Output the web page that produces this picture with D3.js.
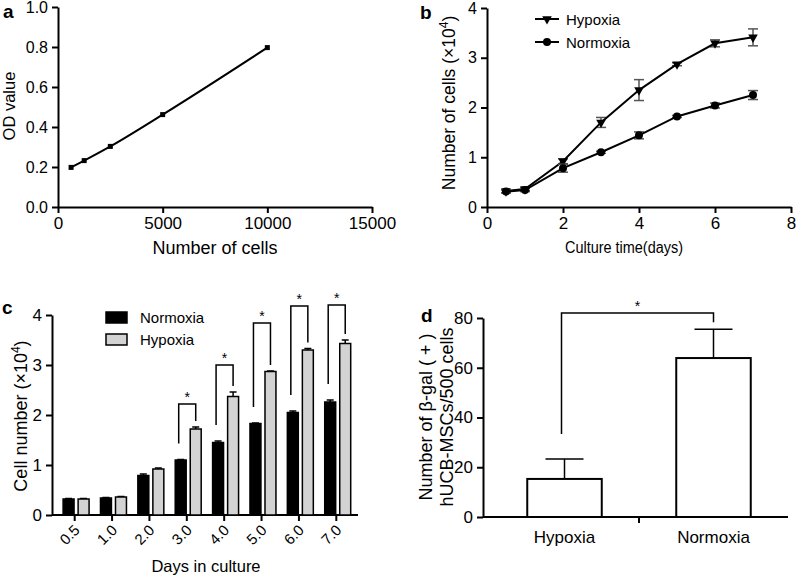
<!DOCTYPE html>
<html><head><meta charset="utf-8">
<script src="https://cdn.jsdelivr.net/npm/d3@7"></script>
<style>
body{margin:0;background:#fff;}
svg{display:block;}
</style></head><body>
<svg id="chart" width="796" height="576"></svg>
<script>
// ---------- Panel a ----------
const aCells = [625, 1250, 2500, 5000, 10000];
const aOD = [0.198, 0.232, 0.303, 0.462, 0.797];
const aXTicks = [0, 5000, 10000, 15000];
const aYTicks = [0, 0.2, 0.4, 0.6, 0.8, 1.0];

// ---------- Panel b ----------
const bDays = [0.5, 1, 2, 3, 4, 5, 6, 7];
const bHypoxia = [0.32, 0.36, 0.92, 1.70, 2.35, 2.87, 3.29, 3.41];
const bHypoxiaErr = [0.03, 0.03, 0.05, 0.10, 0.21, 0.03, 0.07, 0.17];
const bNormoxia = [0.31, 0.34, 0.78, 1.10, 1.44, 1.82, 2.04, 2.25];
const bNormoxiaErr = [0.03, 0.03, 0.08, 0.02, 0.07, 0.02, 0.05, 0.09];
const bXTicks = [0, 2, 4, 6, 8];
const bYTicks = [0, 1, 2, 3, 4];

// ---------- Panel c ----------
const cDays = ["0.5", "1.0", "2.0", "3.0", "4.0", "5.0", "6.0", "7.0"];
const cNormoxia = [0.32, 0.34, 0.79, 1.10, 1.45, 1.83, 2.05, 2.26];
const cNormoxiaErr = [0.01, 0.01, 0.03, 0.01, 0.03, 0.01, 0.03, 0.04];
const cHypoxia = [0.32, 0.36, 0.92, 1.72, 2.37, 2.87, 3.30, 3.43];
const cHypoxiaErr = [0.01, 0.01, 0.02, 0.04, 0.09, 0.01, 0.03, 0.07];
const cSigDays = ["3.0", "4.0", "5.0", "6.0", "7.0"];
const cSigTop = [2.22, 3.0, 3.84, 4.18, 4.2];
const cYTicks = [0, 1, 2, 3, 4];
const cSeries = ["Normoxia", "Hypoxia"];

// ---------- Panel d ----------
const dGroups = ["Hypoxia", "Normoxia"];
const dValues = [15.3, 63.9];
const dErr = [8.0, 11.6];
const dSigTop = 82.0;
const dYTicks = [0, 20, 40, 60, 80];

const FONT = "'Liberation Sans', Arial, Helvetica, sans-serif";
const svg = d3.select("#chart").attr("font-family", FONT);

function styleAxis(g, fs) {
  g.attr("font-family", FONT).attr("font-size", fs);
  g.select(".domain").attr("stroke", "#000").attr("stroke-width", 2);
  g.selectAll(".tick line").attr("stroke", "#000").attr("stroke-width", 2);
  g.selectAll(".tick text").attr("fill", "#000");
  return g;
}
function letter(t, x, y) {
  svg.append("text").attr("x", x).attr("y", y).attr("font-size", 19)
    .attr("font-weight", "bold").text(t);
}

// ================= Panel a =================
{
  const x = d3.scaleLinear().domain([0, 15000]).range([58, 372]);
  const y = d3.scaleLinear().domain([0, 1]).range([207, 7]);
  styleAxis(svg.append("g").attr("transform", "translate(0,207)")
    .call(d3.axisBottom(x).tickValues(aXTicks).tickFormat(d3.format("d")).tickSize(6).tickSizeOuter(0).tickPadding(4)), 17);
  styleAxis(svg.append("g").attr("transform", "translate(58,0)")
    .call(d3.axisLeft(y).tickValues(aYTicks).tickFormat(d3.format(".1f")).tickSize(6).tickSizeOuter(0).tickPadding(4)), 16);
  const pts = aCells.map((c, i) => [x(c), y(aOD[i])]);
  svg.append("path").attr("d", d3.line().curve(d3.curveMonotoneX)(pts))
    .attr("fill", "none").attr("stroke", "#000").attr("stroke-width", 2);
  svg.append("g").selectAll("rect").data(pts).join("rect")
    .attr("x", d => d[0] - 2.5).attr("y", d => d[1] - 2.5).attr("width", 5).attr("height", 5).attr("fill", "#000");
  svg.append("text").attr("transform", "translate(15,106) rotate(-90)").attr("text-anchor", "middle")
    .attr("font-size", 16.5).text("OD value");
  svg.append("text").attr("x", 215).attr("y", 254).attr("text-anchor", "middle")
    .attr("font-size", 18).text("Number of cells");
  letter("a", 3, 18);
}

// ================= Panel b =================
{
  const x = d3.scaleLinear().domain([0, 8]).range([487, 791]);
  const y = d3.scaleLinear().domain([0, 4]).range([207, 8]);
  styleAxis(svg.append("g").attr("transform", "translate(0,207)")
    .call(d3.axisBottom(x).tickValues(bXTicks).tickFormat(d3.format("d")).tickSize(6).tickSizeOuter(0).tickPadding(4)), 17);
  styleAxis(svg.append("g").attr("transform", "translate(487,0)")
    .call(d3.axisLeft(y).tickValues(bYTicks).tickFormat(d3.format("d")).tickSize(6).tickSizeOuter(0).tickPadding(4)), 16);

  const series = [
    { name: "Hypoxia", v: bHypoxia, e: bHypoxiaErr, sym: "tri" },
    { name: "Normoxia", v: bNormoxia, e: bNormoxiaErr, sym: "circ" }
  ];
  const triPath = d3.symbol().type(d3.symbolTriangle).size(40)();
  series.forEach(s => {
    const g = svg.append("g");
    bDays.forEach((d, i) => {
      const cx = x(d), y1 = y(s.v[i] - s.e[i]), y2 = y(s.v[i] + s.e[i]);
      g.append("line").attr("x1", cx).attr("x2", cx).attr("y1", y1).attr("y2", y2).attr("stroke", "#555").attr("stroke-width", 1.5);
      g.append("line").attr("x1", cx - 5).attr("x2", cx + 5).attr("y1", y1).attr("y2", y1).attr("stroke", "#555").attr("stroke-width", 1.5);
      g.append("line").attr("x1", cx - 5).attr("x2", cx + 5).attr("y1", y2).attr("y2", y2).attr("stroke", "#555").attr("stroke-width", 1.5);
    });
    g.append("path").attr("d", d3.line()(bDays.map((d, i) => [x(d), y(s.v[i])])))
      .attr("fill", "none").attr("stroke", "#000").attr("stroke-width", 2);
    bDays.forEach((d, i) => {
      if (s.sym === "tri") g.append("path").attr("d", triPath).attr("transform", `translate(${x(d)},${y(s.v[i])}) rotate(180)`).attr("fill", "#000");
      else g.append("circle").attr("cx", x(d)).attr("cy", y(s.v[i])).attr("r", 4).attr("fill", "#000");
    });
  });
  const lg = svg.append("g");
  [["Hypoxia", 19, "tri"], ["Normoxia", 42, "circ"]].forEach(([t, ly, sym]) => {
    lg.append("line").attr("x1", 535).attr("x2", 559).attr("y1", ly).attr("y2", ly).attr("stroke", "#000").attr("stroke-width", 2);
    if (sym === "tri") lg.append("path").attr("d", triPath).attr("transform", `translate(547,${ly}) rotate(180)`).attr("fill", "#000");
    else lg.append("circle").attr("cx", 547).attr("cy", ly).attr("r", 4).attr("fill", "#000");
    lg.append("text").attr("x", 566).attr("y", ly + 5.5).attr("font-size", 15).text(t);
  });
  const yl = svg.append("text").attr("transform", "translate(455,103) rotate(-90)").attr("text-anchor", "middle").attr("font-size", 17.5);
  yl.append("tspan").text("Number of cells (×10");
  yl.append("tspan").attr("font-size", 12).attr("dy", -7).text("4");
  yl.append("tspan").attr("dy", 7).text(")");
  svg.append("text").attr("x", 624).attr("y", 253).attr("text-anchor", "middle").attr("font-size", 16)
    .attr("textLength", 118).attr("lengthAdjust", "spacingAndGlyphs").text("Culture time(days)");
  letter("b", 420, 19);
}

// ================= Panel c =================
{
  const y = d3.scaleLinear().domain([0, 4]).range([515, 315]);
  const x0 = d3.scaleBand().domain(cDays).range([56, 355]).padding(0);
  const bw = x0.bandwidth();
  const x1 = d3.scaleBand().domain(cSeries).range([bw * 0.19, bw * 0.885]).paddingInner(0.27);
  const xAxis = svg.append("g").attr("transform", "translate(0,515)")
    .call(d3.axisBottom(x0).tickSize(6).tickSizeOuter(0));
  styleAxis(xAxis, 15);
  xAxis.select(".domain").attr("d", "M52,0H358");
  xAxis.selectAll(".tick text").attr("text-anchor", "end").attr("y", 0).attr("dy", 0)
    .attr("transform", "translate(6,16) rotate(-45)");
  styleAxis(svg.append("g").attr("transform", "translate(52,0)")
    .call(d3.axisLeft(y).tickValues(cYTicks).tickFormat(d3.format("d")).tickSize(6).tickSizeOuter(0).tickPadding(4)), 17);

  const data = cSeries.map(s => ({ s, v: s === "Normoxia" ? cNormoxia : cHypoxia, e: s === "Normoxia" ? cNormoxiaErr : cHypoxiaErr }));
  data.forEach(dd => {
    const g = svg.append("g");
    cDays.forEach((day, i) => {
      const bx = x0(day) + x1(dd.s), w = x1.bandwidth(), cx = bx + w / 2;
      const top = y(dd.v[i] + dd.e[i]);
      g.append("line").attr("x1", cx).attr("x2", cx).attr("y1", y(dd.v[i])).attr("y2", top).attr("stroke", "#000").attr("stroke-width", 1.5);
      g.append("line").attr("x1", cx - 3.5).attr("x2", cx + 3.5).attr("y1", top).attr("y2", top).attr("stroke", "#000").attr("stroke-width", 1.5);
      g.append("rect").attr("x", bx).attr("y", y(dd.v[i])).attr("width", w).attr("height", y(0) - y(dd.v[i]))
        .attr("fill", dd.s === "Normoxia" ? "#000" : "#d3d3d3").attr("stroke", "#000").attr("stroke-width", 1.5);
    });
  });
  cSigDays.forEach((day, k) => {
    const i = cDays.indexOf(day);
    const xl = x0(day) + x1("Normoxia") + x1.bandwidth() / 2 - 2;
    const xr = x0(day) + x1("Hypoxia") + x1.bandwidth() / 2;
    const yt = y(cSigTop[k]);
    const yl = y(cNormoxia[i] + cNormoxiaErr[i]) - 16;
    const yr = y(cHypoxia[i] + cHypoxiaErr[i]) - 6;
    svg.append("path").attr("d", `M${xl},${yl}V${yt}H${xr}V${yr}`).attr("fill", "none").attr("stroke", "#000").attr("stroke-width", 1.5);
    svg.append("text").attr("x", (xl + xr) / 2).attr("y", yt - 2).attr("text-anchor", "middle").attr("font-size", 14).text("*");
  });
  cSeries.forEach((s, k) => {
    const ly = 312 + k * 22;
    svg.append("rect").attr("x", 106).attr("y", ly).attr("width", 21).attr("height", 11)
      .attr("fill", s === "Normoxia" ? "#000" : "#d3d3d3").attr("stroke", "#000").attr("stroke-width", 1.5);
    svg.append("text").attr("x", 140).attr("y", ly + 11).attr("font-size", 15).text(s);
  });
  const yl = svg.append("text").attr("transform", "translate(27,416) rotate(-90)").attr("text-anchor", "middle").attr("font-size", 18);
  yl.append("tspan").text("Cell number (×10");
  yl.append("tspan").attr("font-size", 12).attr("dy", -7).text("4");
  yl.append("tspan").attr("dy", 7).text(")");
  svg.append("text").attr("x", 206).attr("y", 572).attr("text-anchor", "middle").attr("font-size", 16.5).text("Days in culture");
  letter("c", 2, 314);
}

// ================= Panel d =================
{
  const y = d3.scaleLinear().domain([0, 80]).range([517, 318]);
  const x = d3.scaleBand().domain(dGroups).range([490, 788]).paddingInner(0.5).paddingOuter(0.25);
  const xa = svg.append("g").attr("transform", "translate(0,517)")
    .call(d3.axisBottom(x).tickSize(0).tickSizeOuter(0).tickPadding(10));
  styleAxis(xa, 17);
  xa.select(".domain").attr("d", "M483,0H788");
  xa.selectAll(".tick text").attr("dy", 0).attr("y", 26);
  const mid = (x("Hypoxia") + x.bandwidth() + x("Normoxia")) / 2;
  svg.append("line").attr("x1", mid).attr("x2", mid).attr("y1", 517).attr("y2", 523).attr("stroke", "#000").attr("stroke-width", 2);
  styleAxis(svg.append("g").attr("transform", "translate(483,0)")
    .call(d3.axisLeft(y).tickValues(dYTicks).tickSize(6).tickSizeOuter(0).tickPadding(4)), 17);

  dGroups.forEach((gname, i) => {
    const bx = x(gname), w = x.bandwidth(), cx = bx + w / 2, top = y(dValues[i] + dErr[i]);
    svg.append("line").attr("x1", cx).attr("x2", cx).attr("y1", y(dValues[i])).attr("y2", top).attr("stroke", "#000").attr("stroke-width", 1.5);
    svg.append("line").attr("x1", cx - 19).attr("x2", cx + 19).attr("y1", top).attr("y2", top).attr("stroke", "#000").attr("stroke-width", 1.5);
    svg.append("rect").attr("x", bx).attr("y", y(dValues[i])).attr("width", w).attr("height", y(0) - y(dValues[i]))
      .attr("fill", "#fff").attr("stroke", "#000").attr("stroke-width", 2);
  });
  const xl = x("Hypoxia") + x.bandwidth() / 2 - 3, xr = x("Normoxia") + x.bandwidth() / 2;
  const yt = y(dSigTop);
  svg.append("path").attr("d", `M${xl},${y(dValues[0] + dErr[0]) - 25}V${yt}H${xr}V${y(dValues[1] + dErr[1]) - 7}`)
    .attr("fill", "none").attr("stroke", "#000").attr("stroke-width", 1.5);
  svg.append("text").attr("x", (xl + xr) / 2).attr("y", yt - 2).attr("text-anchor", "middle").attr("font-size", 14).text("*");
  const yl = svg.append("text").attr("transform", "translate(0,417) rotate(-90)").attr("text-anchor", "middle").attr("font-size", 18);
  yl.append("tspan").attr("x", 0).attr("y", 432).text("Number of β-gal ( + )");
  yl.append("tspan").attr("x", 0).attr("y", 453).text("hUCB-MSCs/500 cells");
  letter("d", 421, 322);
}
</script>
</body></html>
